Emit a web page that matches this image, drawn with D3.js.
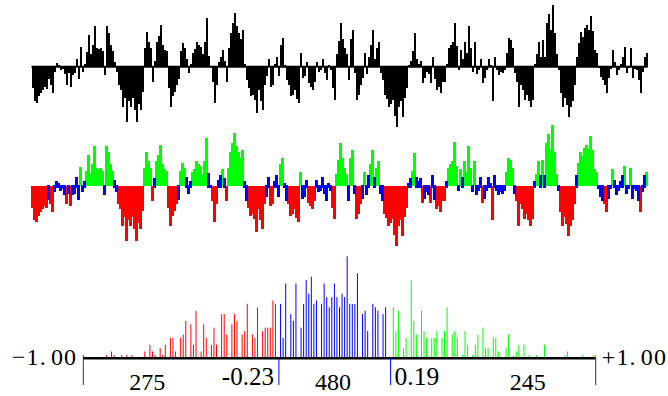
<!DOCTYPE html>
<html><head><meta charset="utf-8">
<script src="https://cdn.jsdelivr.net/npm/d3@7"></script>
<style>html,body{margin:0;padding:0;background:#fff}svg{display:block}</style>
</head><body>
<svg id="chart" width="668" height="396"></svg>
<script>
// ---- data ----
const signal = [
-0.35,-0.55,-0.59,-0.48,-0.43,-0.38,-0.33,-0.36,-0.20,-0.29,
-0.43,-0.08,0.06,0.03,-0.05,-0.03,-0.12,-0.30,-0.10,-0.33,
-0.13,-0.10,0.12,-0.20,0.31,-0.08,0.05,0.24,0.51,0.20,
0.35,0.65,0.30,0.28,0.30,0.25,-0.13,0.65,0.55,0.35,
0.25,0.08,-0.08,-0.30,-0.38,-0.65,-0.50,-0.89,-0.55,-0.65,
-0.50,-0.70,-0.89,-0.60,-0.70,-0.40,0.30,0.56,0.40,0.30,
-0.24,0.10,0.40,0.50,0.67,0.35,0.27,0.25,-0.35,-0.65,
-0.48,-0.40,-0.30,-0.20,0.25,0.38,0.30,0.13,-0.10,0.05,
0.22,0.28,0.40,0.35,0.32,0.20,0.40,0.78,0.18,0.00,
-0.25,-0.59,-0.30,0.08,0.15,0.27,0.10,-0.25,0.30,0.55,
0.70,0.86,0.65,0.55,
0.45,0.59,0.05,-0.22,-0.35,-0.48,-0.45,-0.54,-0.75,-0.38,
-0.55,-0.70,-0.30,-0.15,0.13,-0.32,-0.30,0.05,0.16,-0.15,
0.35,0.46,0.03,-0.22,-0.30,-0.48,-0.45,-0.38,-0.52,-0.59,
0.22,-0.18,-0.15,0.08,-0.27,-0.33,-0.38,-0.25,0.08,-0.08,
-0.05,0.12,-0.10,-0.22,0.03,-0.05,-0.35,-0.54,0.20,0.42,
0.70,0.45,0.30,0.20,-0.22,0.45,0.59,-0.10,-0.54,-0.45,
-0.30,-0.18,0.22,-0.12,0.15,0.35,0.59,0.13,0.30,0.40,
-0.10,-0.22,-0.45,-0.52,-0.65,-0.60,-0.54,-0.80,-0.97,-0.65,
-0.55,-0.81,-0.50,-0.35,0.03,0.10,0.25,0.54,0.12,0.05,
0.10,-0.27,-0.19,-0.08,-0.12,-0.27,0.16,-0.20,-0.38,-0.32,
-0.43,-0.25,-0.24,0.05,0.30,0.35,0.40,0.71,0.33,-0.05,
0.27,0.13,0.40,0.22,0.65,0.30,-0.08,0.40,-0.12,-0.05,
0.13,-0.27,-0.18,-0.05,0.13,0.02,-0.56,0.16,-0.05,-0.13,
-0.08,-0.10,-0.05,0.22,0.46,0.43,0.30,-0.10,-0.25,-0.65,
-0.30,-0.38,-0.54,-0.45,-0.56,-0.65,-0.54,0.05,0.20,0.40,
0.15,0.43,0.16,0.70,0.85,0.60,0.99,0.55,0.20,-0.05,
-0.43,-0.65,-0.50,-0.62,-0.81,-0.65,-0.55,-0.30,0.15,0.38,
0.56,0.48,0.62,0.67,0.60,0.81,0.58,0.27,0.22,-0.02,
-0.16,-0.22,-0.30,-0.43,-0.19,-0.03,0.27,0.08,-0.13,-0.05,
0.05,0.16,0.32,-0.10,-0.02,0.30,-0.19,-0.03,-0.05,-0.22,
-0.43,-0.08,0.15,0.22
];

const histBins = [
-1.00,-0.91,-0.89,-0.88,-0.85,-0.83,-0.81,-0.76,-0.74,-0.73,-0.72,-0.70,-0.69,-0.68,-0.66,-0.65,-0.64,
-0.62,-0.61,-0.60,-0.58,-0.57,-0.56,-0.54,-0.53,-0.52,-0.50,-0.49,-0.48,-0.46,-0.45,-0.44,-0.42,-0.41,
-0.40,-0.38,-0.37,-0.36,-0.34,-0.33,-0.32,-0.30,-0.29,-0.28,-0.27,-0.26,-0.25,
-0.23,-0.22,-0.21,-0.19,-0.18,-0.17,-0.15,-0.14,-0.13,-0.12,-0.11,-0.10,-0.09,-0.07,-0.06,-0.05,-0.04,
-0.03,-0.02,-0.01,0.00,0.01,0.02,0.03,0.04,0.05,0.06,0.07,0.09,0.10,0.11,0.13,0.14,0.15,0.17,0.18,
0.21,0.22,0.23,0.25,0.26,0.28,0.29,0.30,0.32,0.33,0.34,0.36,0.37,0.38,0.40,0.41,0.42,0.44,0.45,0.46,
0.48,0.49,0.50,0.52,0.53,0.54,0.56,0.57,0.58,0.60,0.61,0.62,0.65,0.66,0.68,0.69,0.70,0.72,0.74,0.77,
0.80,0.88,0.89,0.95,0.99,1.00
];
const histCounts = [
1,1,2,1,1,1,1,2,4,2,1,3,1,4,6,6,2,
6,7,11,10,4,14,2,10,6,4,9,4,13,13,7,10,13,
11,7,8,16,7,6,15,8,9,9,9,17,16,
16,6,22,13,11,22,9,16,23,19,24,16,17,16,22,18,15,
18,22,18,15,19,18,30,16,16,16,25,13,14,8,16,15,14,13,15,
15,8,14,3,6,23,11,7,14,8,6,6,6,8,6,8,15,7,8,6,
1,8,4,1,4,7,9,3,3,6,6,2,3,7,1,2,4,4,1,1,
4,1,2,1,1,1
];

const lowCut = -0.2365, highCut = 0.1995;      // class boundaries
const lowLabel = "-0.23", highLabel = "0.19";
const endLabels = ["\u22121.", "+1."];           // followed by "00"
const classCounts = ["275", "480", "245"];
const classLabelAt = [-0.75, -0.025, 0.735];     // value where each count label is centred
const colors = {low: "#ff0000", mid: "#0000ff", high: "#00ff00"};

// ---- drawing ----
const svg = d3.select("#chart");
const serif = "'Liberation Serif','Times New Roman',serif";
const cls = v => v < lowCut ? "low" : (v > highCut ? "high" : "mid");

const x = d3.scaleLinear().domain([0, signal.length - 1]).range([32.5, 646.5]);
const step = x(1) - x(0);
const yTop = d3.scaleLinear().domain([-1, 1]).range([128.7, 4.7]);
const yMid = d3.scaleLinear().domain([-1, 1]).range([247.5, 124.5]);
const idx = d3.range(signal.length);

// top panel: raw signal bars
const gTop = svg.append("g").attr("shape-rendering", "crispEdges");
gTop.selectAll("rect").data(idx).join("rect")
  .attr("x", i => x(i) - step / 2)
  .attr("width", step + 0.2)
  .attr("y", i => Math.min(yTop(signal[i]), yTop(0)))
  .attr("height", i => Math.abs(yTop(signal[i]) - yTop(0)))
  .attr("fill", "#000");
svg.append("line")
  .attr("x1", x(0) - 1).attr("x2", x(signal.length - 1) + 1)
  .attr("y1", yTop(0)).attr("y2", yTop(0))
  .attr("stroke", "#000").attr("stroke-width", 2);

// middle panel: classified signal bars
const gMid = svg.append("g").attr("shape-rendering", "crispEdges");
const outIdx = idx.filter(i => cls(signal[i]) !== "mid");
const midIdx = idx.filter(i => cls(signal[i]) === "mid");
gMid.selectAll("rect.out").data(outIdx).join("rect").attr("class", "out")
  .attr("x", i => x(i) - step / 2 - 0.2)
  .attr("width", step + 0.4)
  .attr("y", i => Math.min(yMid(signal[i]), yMid(0)))
  .attr("height", i => Math.abs(yMid(signal[i]) - yMid(0)))
  .attr("fill", i => colors[cls(signal[i])]);
gMid.selectAll("rect.mid").data(midIdx).join("rect").attr("class", "mid")
  .attr("x", i => x(i) - 1.9)
  .attr("width", 3.8)
  .attr("y", i => Math.min(yMid(signal[i]), yMid(0)) - 1.5)
  .attr("height", i => Math.abs(yMid(signal[i]) - yMid(0)) + 3)
  .attr("fill", colors.mid);

// bottom panel: histogram
const hx = d3.scaleLinear().domain([-1, 1]).range([83.3, 595.7]);
const hy = d3.scaleLinear().domain([0, 30]).range([358.3, 256.3]);
const gH = svg.append("g");
gH.selectAll("line.bar").data(histBins).join("line").attr("class", "bar")
  .attr("x1", d => hx(d)).attr("x2", d => hx(d))
  .attr("y1", hy(0)).attr("y2", (d, i) => hy(histCounts[i]))
  .attr("stroke", d => colors[cls(d)]).attr("stroke-width", 1);
gH.append("line")
  .attr("x1", hx(-1)).attr("x2", hx(1)).attr("y1", hy(0)).attr("y2", hy(0))
  .attr("stroke", "#000").attr("stroke-width", 2.6);
[-1, 1].forEach(v => gH.append("line")
  .attr("x1", hx(v)).attr("x2", hx(v)).attr("y1", hy(0)).attr("y2", 385)
  .attr("stroke", "#333").attr("stroke-width", 1));
[lowCut, highCut].forEach(v => gH.append("line")
  .attr("x1", hx(v)).attr("x2", hx(v)).attr("y1", hy(0)).attr("y2", 385)
  .attr("stroke", colors.mid).attr("stroke-width", 1));

// end labels
const lt = svg.append("text").attr("x", hx(-1) - 6).attr("y", 365)
  .attr("text-anchor", "end").attr("font-family", serif).attr("font-size", 24)
  .attr("letter-spacing", 1.2).attr("fill", "#000");
lt.append("tspan").text(endLabels[0]);
lt.append("tspan").attr("dx", 4).text("00");
const rt = svg.append("text").attr("x", hx(1) + 6).attr("y", 365)
  .attr("text-anchor", "start").attr("font-family", serif).attr("font-size", 24)
  .attr("letter-spacing", 1.2).attr("fill", "#000");
rt.append("tspan").text(endLabels[1]);
rt.append("tspan").attr("dx", 4).text("00");

// threshold labels
svg.append("text").attr("x", hx(lowCut) - 5).attr("y", 385).attr("text-anchor", "end")
  .attr("font-family", serif).attr("font-size", 25).text(lowLabel);
svg.append("text").attr("x", hx(highCut) + 4).attr("y", 385).attr("text-anchor", "start")
  .attr("font-family", serif).attr("font-size", 25.5).text(highLabel);

// class counts
classCounts.forEach((c, i) => svg.append("text")
  .attr("x", hx(classLabelAt[i])).attr("y", 390).attr("text-anchor", "middle")
  .attr("font-family", serif).attr("font-size", 24).text(c));
</script>
</body></html>
